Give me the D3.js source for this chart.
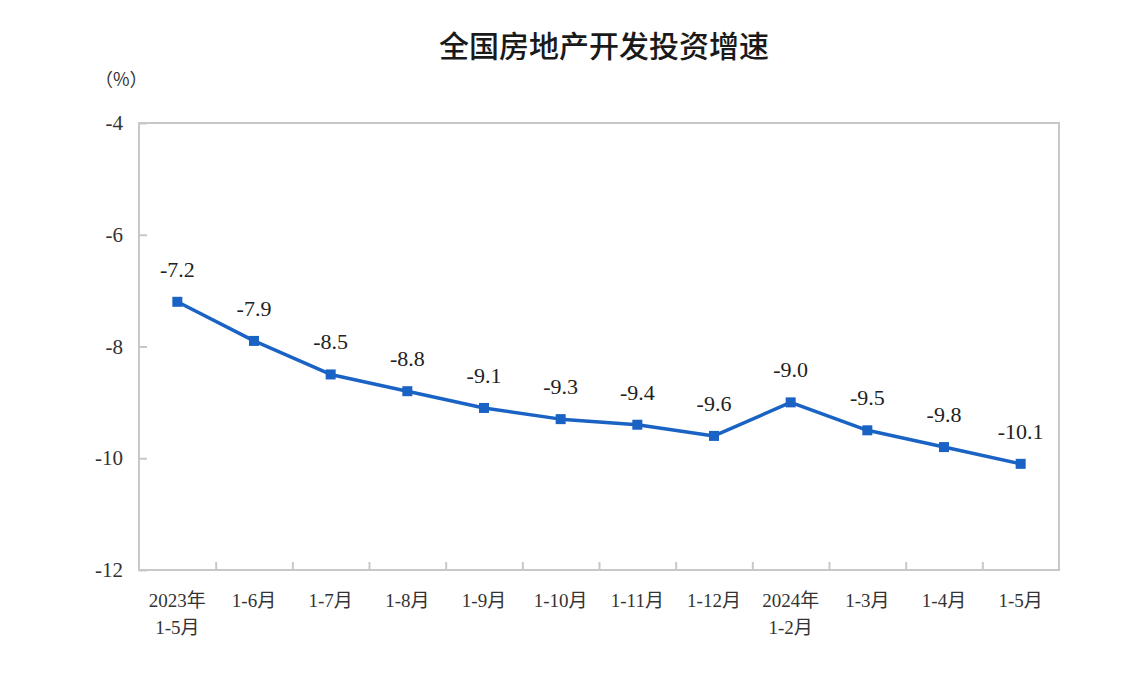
<!DOCTYPE html>
<html><head><meta charset="utf-8">
<script src="https://cdn.jsdelivr.net/npm/d3@7"></script>
<style>body{margin:0;background:#fff}
.serif{font-family:"Liberation Serif","DejaVu Serif","Noto Sans CJK SC",serif}
.cjk{font-family:"Noto Sans CJK SC",sans-serif}
</style>
</head><body>
<svg id="c" width="1136" height="679"></svg>
<script>
const categories = [["2023年","1-5月"],["1-6月"],["1-7月"],["1-8月"],["1-9月"],["1-10月"],["1-11月"],["1-12月"],["2024年","1-2月"],["1-3月"],["1-4月"],["1-5月"]];
const values = [-7.2,-7.9,-8.5,-8.8,-9.1,-9.3,-9.4,-9.6,-9.0,-9.5,-9.8,-10.1];
const yTicks = [-4,-6,-8,-10,-12];
const title = "全国房地产开发投资增速";
const unit = "（%）";

const svg = d3.select("#c");
const L=139, R=1059, T=123, B=570;
const x = d3.scaleBand().domain(d3.range(categories.length)).range([L,R]);
const y = d3.scaleLinear().domain([-12,-4]).range([B,T]);

svg.append("text").attr("class","cjk").attr("x",604).attr("y",57).attr("text-anchor","middle")
  .attr("font-weight",500).attr("font-size",30).attr("fill","#1a1a1a").text(title);
svg.append("text").attr("class","cjk").attr("x",95).attr("y",86)
  .attr("font-size",18).attr("fill","#333").text(unit);

svg.append("rect").attr("x",L).attr("y",T).attr("width",R-L).attr("height",B-T)
  .attr("fill","none").attr("stroke","#c8c8c8").attr("stroke-width",2);

const ya = svg.append("g").attr("transform",`translate(${L},0)`)
  .call(d3.axisRight(y).tickValues(yTicks).tickSize(8).tickFormat(""));
ya.select(".domain").remove();
ya.selectAll("line").attr("stroke","#c8c8c8").attr("stroke-width",2);
svg.append("g").selectAll("text").data(yTicks).join("text").attr("class","serif")
  .attr("x",123).attr("y",d=>y(d)+7).attr("text-anchor","end")
  .attr("font-size",21).attr("fill","#333").text(d=>d);

const xa = svg.append("g").attr("transform",`translate(0,${B})`)
  .call(d3.axisTop(d3.scaleLinear().domain([0,categories.length]).range([L,R]))
    .tickValues(d3.range(1,categories.length)).tickSize(8).tickFormat(""));
xa.select(".domain").remove();
xa.selectAll("line").attr("stroke","#c8c8c8").attr("stroke-width",2);

const xl = svg.append("g").selectAll("text").data(categories).join("text").attr("class","serif")
  .attr("text-anchor","middle").attr("font-size",19).attr("fill","#333");
xl.each(function(d,i){
  const t=d3.select(this);
  d.forEach((s,j)=>t.append("tspan").attr("x",x(i)+x.bandwidth()/2).attr("y",607+j*27).text(s));
});

const cx = i=>x(i)+x.bandwidth()/2;
const color="#1a63c4";
svg.append("path").datum(values).attr("fill","none").attr("stroke",color).attr("stroke-width",3.5)
  .attr("stroke-linejoin","round")
  .attr("d",d3.line().x((d,i)=>cx(i)).y(d=>y(d)));
svg.append("g").selectAll("rect").data(values).join("rect")
  .attr("x",(d,i)=>cx(i)-5).attr("y",d=>y(d)-5).attr("width",10).attr("height",10).attr("fill",color);
svg.append("g").selectAll("text").data(values).join("text").attr("class","serif")
  .attr("x",(d,i)=>cx(i)).attr("y",d=>y(d)-25).attr("text-anchor","middle")
  .attr("font-size",22).attr("fill","#222")
  .text(d=>d.toFixed(1));
</script>
</body></html>
